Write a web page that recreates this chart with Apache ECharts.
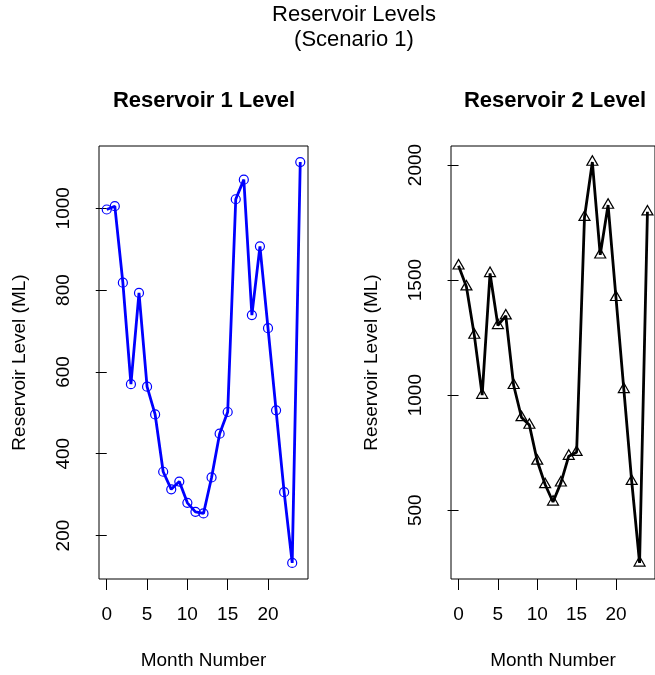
<!DOCTYPE html>
<html>
<head>
<meta charset="utf-8">
<script src="https://cdn.jsdelivr.net/npm/echarts@6/dist/echarts.min.js"></script>
<style>
  html, body { margin: 0; padding: 0; background: #fff; }
  #chart { width: 655px; height: 675px; }
</style>
</head>
<body>
<div id="chart"></div>
<script>
var months = [0, 1, 2, 3, 4, 5, 6, 7, 8, 9, 10, 11, 12, 13, 14, 15, 16, 17, 18, 19, 20, 21, 22, 23, 24];
var reservoir1 = [997, 1005, 818, 570, 793, 564, 496, 356, 313, 332, 280, 258, 254, 342, 449, 502, 1022, 1070, 739, 907, 707, 506, 306, 133, 1113];
var reservoir2 = [1562, 1471, 1261, 1000, 1529, 1303, 1345, 1043, 903, 870, 714, 612, 536, 619, 735, 752, 1773, 2013, 1610, 1826, 1425, 1025, 626, 271, 1797];
var xTicks = [0, 5, 10, 15, 20];
var y1Ticks = [200, 400, 600, 800, 1000];
var y2Ticks = [500, 1000, 1500, 2000];

(function () {
    var myChart = echarts.init(document.getElementById('chart'));
    var font = 'Liberation Sans, Arial, Helvetica, sans-serif';

    // R style axis range: data range widened by 4% on each side
    function pad(vals) {
        var lo = Math.min.apply(null, vals), hi = Math.max.apply(null, vals);
        var d = (hi - lo) * 0.04;
        return [lo - d, hi + d];
    }
    var xr = pad(months), r1 = pad(reservoir1), r2 = pad(reservoir2);

    function pairs(ys) {
        return months.map(function (m, i) { return [m, ys[i]]; });
    }
    function plain(v) { return String(v); }

    function xAxis(idx) {
        return {
            type: 'value', gridIndex: idx, min: xr[0], max: xr[1],
            name: 'Month Number', nameLocation: 'middle', nameGap: 72,
            nameTextStyle: { fontFamily: font, fontSize: 19, color: '#000' },
            axisLine: { show: false },
            axisTick: { show: true, length: 11, lineStyle: { color: '#000' }, customValues: xTicks },
            axisLabel: { fontFamily: font, fontSize: 19, color: '#000', margin: 26, formatter: plain, customValues: xTicks },
            splitLine: { show: false }
        };
    }
    function yAxis(idx, r, ticks) {
        return {
            type: 'value', gridIndex: idx, min: r[0], max: r[1],
            name: 'Reservoir Level (ML)', nameLocation: 'middle', nameGap: 70,
            nameTextStyle: { fontFamily: font, fontSize: 19, color: '#000' },
            axisLine: { show: false },
            axisTick: { show: true, length: 11, lineStyle: { color: '#000' }, customValues: ticks },
            axisLabel: { fontFamily: font, fontSize: 19, color: '#000', margin: 26, rotate: 90, formatter: plain, customValues: ticks },
            splitLine: { show: false }
        };
    }

    var option = {
        backgroundColor: '#fff',
        animation: false,
        graphic: [
            { type: 'text', x: 354, y: 15, style: { text: 'Reservoir Levels', fontFamily: font, fontSize: 22, fill: '#000', textAlign: 'center', textVerticalAlign: 'middle' } },
            { type: 'text', x: 354, y: 40, style: { text: '(Scenario 1)', fontFamily: font, fontSize: 22, fill: '#000', textAlign: 'center', textVerticalAlign: 'middle' } },
            { type: 'text', x: 204, y: 101, style: { text: 'Reservoir 1 Level', fontFamily: font, fontSize: 22, fontWeight: 'bold', fill: '#000', textAlign: 'center', textVerticalAlign: 'middle' } },
            { type: 'text', x: 555, y: 101, style: { text: 'Reservoir 2 Level', fontFamily: font, fontSize: 22, fontWeight: 'bold', fill: '#000', textAlign: 'center', textVerticalAlign: 'middle' } }
        ],
        grid: [
            { left: 99, top: 146, width: 209, height: 433, show: true, borderColor: '#000', borderWidth: 1, backgroundColor: 'transparent' },
            { left: 451, top: 146, width: 209, height: 433, show: true, borderColor: '#000', borderWidth: 1, backgroundColor: 'transparent' }
        ],
        xAxis: [xAxis(0), xAxis(1)],
        yAxis: [yAxis(0, r1, y1Ticks), yAxis(1, r2, y2Ticks)],
        series: [
            {
                type: 'line', xAxisIndex: 0, yAxisIndex: 0,
                data: pairs(reservoir1),
                symbol: 'circle', symbolSize: 9,
                lineStyle: { color: '#0000ff', width: 2.8 },
                itemStyle: { color: 'none', borderColor: '#0000ff', borderWidth: 1.2 }
            },
            {
                type: 'line', xAxisIndex: 1, yAxisIndex: 1,
                data: pairs(reservoir2),
                symbol: 'triangle', symbolSize: [11, 9.5], symbolOffset: [0, -1.6],
                lineStyle: { color: '#000', width: 2.8 },
                itemStyle: { color: 'none', borderColor: '#000', borderWidth: 1.2 }
            }
        ]
    };
    myChart.setOption(option);
    window.addEventListener("resize", function () {
        myChart.resize();
    });
})();
</script>
</body>
</html>
